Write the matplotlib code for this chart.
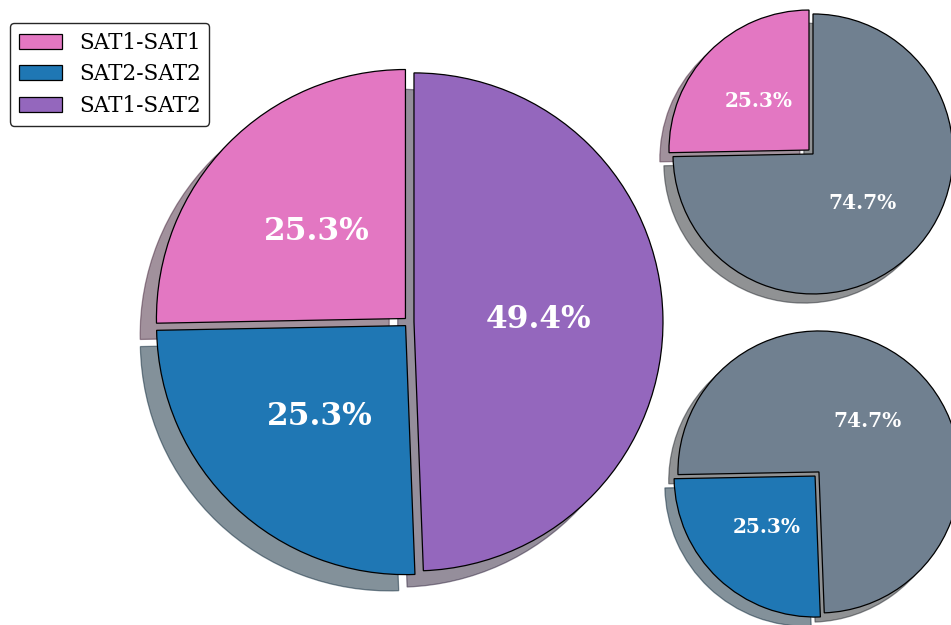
import matplotlib
matplotlib.use("Agg")
import matplotlib.pyplot as plt

labels = ["SAT1-SAT1", "SAT2-SAT2", "SAT1-SAT2"]
sizes = [25.3, 25.3, 49.4]
colors = ["tab:pink", "tab:blue", "tab:purple"]

top_sizes = [25.3, 74.7]
top_colors = ["tab:pink", "slategray"]
bottom_sizes = [25.3, 74.7]
bottom_colors = ["tab:blue", "slategray"]

W, H = 951, 625
fig = plt.figure(figsize=(W / 100, H / 100), dpi=100)


def pie_axes(cx, cy, r, pad=1.2):
    # cx, cy, r in pixels, y measured from the top
    s = 2 * r * pad
    return fig.add_axes([(cx - r * pad) / W, 1 - (cy + r * pad) / H, s / W, s / H])


shadow = {"ox": -0.047, "oy": -0.047}
wedge = {"edgecolor": "black", "linewidth": 0.9}

ax = pie_axes(409, 322, 249)
wedges, _, autotexts = ax.pie(sizes, colors=colors, explode=[0.02] * 3, startangle=90,
                              autopct="%1.1f%%", pctdistance=0.5, shadow=shadow,
                              wedgeprops=wedge)
for t in autotexts:
    t.set_color("white")
    t.set_fontsize(22.5)
    t.set_fontweight("bold")
    t.set_family("DejaVu Serif")
ax.set_xlim(-1.2, 1.2)
ax.set_ylim(-1.2, 1.2)

ax2 = pie_axes(811, 152, 140)
_, _, at2 = ax2.pie(top_sizes, colors=top_colors, explode=[0.02, 0.02], startangle=90,
                    autopct="%1.1f%%", pctdistance=0.5, shadow=shadow, wedgeprops=wedge)
ax2.set_xlim(-1.2, 1.2)
ax2.set_ylim(-1.2, 1.2)

ax3 = pie_axes(817, 474, 141)
_, _, at3 = ax3.pie(bottom_sizes, colors=bottom_colors, explode=[0.02, 0.02],
                    startangle=90 + 3.6 * top_sizes[0],
                    autopct="%1.1f%%", pctdistance=0.5, shadow=shadow, wedgeprops=wedge)
ax3.set_xlim(-1.2, 1.2)
ax3.set_ylim(-1.2, 1.2)

for t in at2 + at3:
    t.set_color("white")
    t.set_fontsize(14.5)
    t.set_fontweight("bold")
    t.set_family("DejaVu Serif")

leg = fig.legend(wedges, labels, loc="upper left", bbox_to_anchor=(10 / W, 1 - 23 / H),
                 borderaxespad=0, prop={"family": "DejaVu Serif", "size": 15.5},
                 labelspacing=0.45, edgecolor="0.15", framealpha=1)

fig.savefig("out.png", dpi=100)
